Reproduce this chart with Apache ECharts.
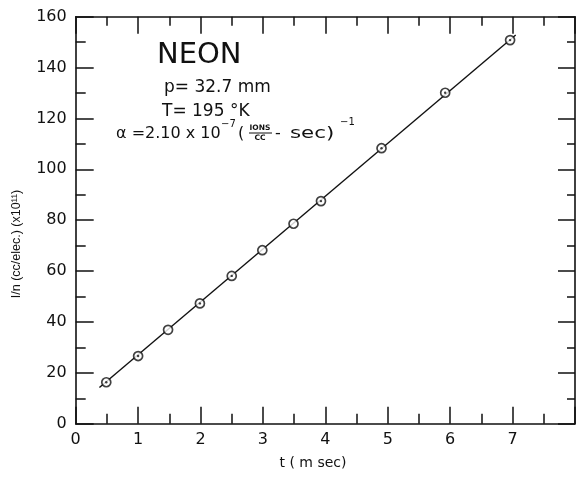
<!DOCTYPE html>
<html>
<head>
<meta charset="utf-8">
<script src="https://cdn.jsdelivr.net/npm/echarts@6/dist/echarts.min.js"></script>
<style>
html,body{margin:0;padding:0;background:#fff;}
#chart{width:578px;height:477px;}
</style>
</head>
<body>
<div id="chart"></div>
<script>
// ---- data ----
var timeMs   = [0.49, 1.00, 1.48, 1.99, 2.50, 2.99, 3.49, 3.93, 4.90, 5.92, 6.96];
var invN     = [16.3, 26.6, 36.9, 47.3, 58.1, 68.2, 78.6, 87.5, 108.3, 130.1, 150.8];
var centerDot = [1, 1, 0, 1, 1, 0, 0, 1, 1, 1, 1];
var fitX     = [0.38, 7.05];
var fitY     = [14.2, 152.8];
var xTicks   = [0, 1, 2, 3, 4, 5, 6, 7];
var yTicks   = [0, 20, 40, 60, 80, 100, 120, 140, 160];

var FONT = 'DejaVu Sans';
var INK = '#111';

var pts = timeMs.map(function (t, i) { return [t, invN[i]]; });
var dots = pts.filter(function (p, i) { return centerDot[i] === 1; });
var fit = fitX.map(function (x, i) { return [x, fitY[i]]; });

var chart = echarts.init(document.getElementById('chart'), null, {renderer: 'canvas'});

function xAxisCfg(pos, showLabel, major, minor) {
  return {
    type: 'value', position: pos, min: 0, max: 8, interval: 1,
    axisLine: {show: true, onZero: false, lineStyle: {color: INK, width: 1.6}},
    axisTick: {show: true, inside: true, length: major, lineStyle: {color: INK, width: 1.5}},
    minorTick: {show: true, splitNumber: 2, length: minor, lineStyle: {color: INK, width: 1.5}},
    splitLine: {show: false},
    axisLabel: {
      show: showLabel, margin: 8, color: INK, fontFamily: FONT, fontSize: 16,
      formatter: function (v) { return xTicks.indexOf(v) >= 0 ? String(v) : ''; }
    }
  };
}
function yAxisCfg(pos, showLabel, major, minor) {
  return {
    type: 'value', position: pos, min: 0, max: 160, interval: 20,
    axisLine: {show: true, onZero: false, lineStyle: {color: INK, width: 1.6}},
    axisTick: {show: true, inside: true, length: major, lineStyle: {color: INK, width: 1.5}},
    minorTick: {show: true, splitNumber: 2, length: minor, lineStyle: {color: INK, width: 1.5}},
    splitLine: {show: false},
    axisLabel: {
      show: showLabel, margin: 9, color: INK, fontFamily: FONT, fontSize: 16,
      formatter: function (v) { return yTicks.indexOf(v) >= 0 ? String(v) : ''; }
    }
  };
}

function txt(x, y, s, size, opts) {
  opts = opts || {};
  return {
    type: 'text', x: x, y: y, scaleX: opts.sx || 1, rotation: opts.rot || 0,
    style: {
      text: s, font: (opts.bold ? 'bold ' : '') + size + 'px "' + (opts.family || FONT) + '"', fill: INK,
      align: opts.align || 'left', verticalAlign: 'middle'
    }
  };
}

var option = {
  backgroundColor: '#fff',
  animation: false,
  grid: {left: 75.7, top: 16.7, width: 506, height: 407, containLabel: false},
  xAxis: [xAxisCfg('bottom', true, 17, 10), xAxisCfg('top', false, 17, 9)],
  yAxis: [yAxisCfg('left', true, 18, 10), yAxisCfg('right', false, 17, 8)],
  series: [
    {
      type: 'line', data: fit, xAxisIndex: 0, yAxisIndex: 0,
      showSymbol: false, symbol: 'none', z: 1,
      lineStyle: {color: INK, width: 1.4}
    },
    {
      type: 'scatter', data: pts, xAxisIndex: 0, yAxisIndex: 0,
      symbol: 'circle', symbolSize: 9, z: 2,
      itemStyle: {color: '#fff', borderColor: INK, borderWidth: 1.7}
    },
    {
      type: 'scatter', data: dots, xAxisIndex: 0, yAxisIndex: 0,
      symbol: 'circle', symbolSize: 2.4, z: 3,
      itemStyle: {color: INK}
    }
  ],
  graphic: [
    txt(313, 463, 't ( m sec)', 14, {align: 'center'}),
    txt(17, 244, 'I/n (cc/elec.) (x10\u00B9\u00B9)', 12.5, {align: 'center', rot: Math.PI / 2, family: 'Liberation Sans'}),
    txt(157, 55, 'NEON', 29),
    txt(164, 88, 'p= 32.7 mm', 17),
    txt(162, 112, 'T= 195 \u00B0K', 17),
    txt(116, 134, '\u03B1 =2.10 x 10', 16),
    txt(221, 124, '\u22127', 10),
    txt(238, 134, '(', 16),
    txt(260, 128, 'IONS', 7.5, {bold: true, align: 'center'}),
    {type: 'line', shape: {x1: 249, y1: 133, x2: 272, y2: 133}, style: {stroke: INK, lineWidth: 1}},
    txt(260, 138, 'CC', 7.5, {bold: true, align: 'center'}),
    txt(275, 134, '-', 16),
    txt(290, 134, 'sec)', 16, {sx: 1.33}),
    txt(340, 122, '\u22121', 10)
  ]
};
chart.setOption(option);
</script>
</body>
</html>
